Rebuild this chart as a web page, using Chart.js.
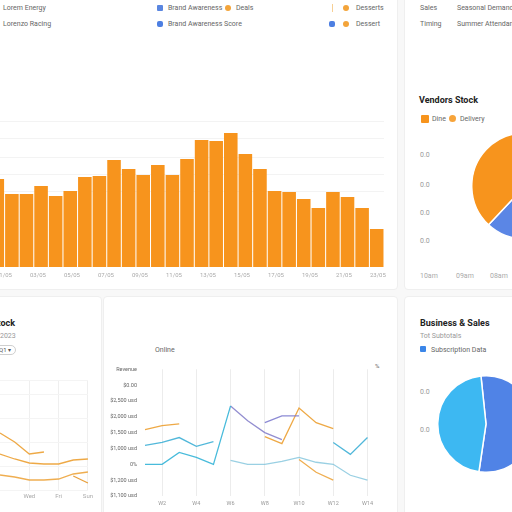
<!DOCTYPE html>
<html>
<head>
<meta charset="utf-8">
<script src="https://cdn.jsdelivr.net/npm/chart.js@4.4.1/dist/chart.umd.min.js"></script>
<style>
html, body { margin:0; padding:0; width:512px; height:512px; overflow:hidden; background:#f8f8f8; font-family:Roboto, "Liberation Sans", sans-serif; }
.card { position:absolute; background:#fff; border:1px solid #efefef; border-radius:4px; }
.t { position:absolute; font-size:7px; line-height:8px; color:#666; white-space:nowrap; }
.title { position:absolute; font-size:9px; line-height:10px; font-weight:bold; color:#222; white-space:nowrap; }
.sq { position:absolute; width:6px; height:6px; border-radius:1px; }
.dot { position:absolute; width:6px; height:6px; border-radius:50%; }
.pill { position:absolute; border:1px solid #cfcfcf; border-radius:5px; font-size:6px; line-height:8px; color:#555; padding:0 4px; }
canvas { position:absolute; }
</style>
</head>
<body>
<div class="card" style="left:-6px;top:-6px;width:402px;height:294px"></div>
<div class="card" style="left:404px;top:-6px;width:120px;height:294px"></div>
<div class="card" style="left:-6px;top:296px;width:106px;height:230px"></div>
<div class="card" style="left:103px;top:296px;width:293px;height:230px"></div>
<div class="card" style="left:404px;top:296px;width:120px;height:230px"></div>

<!-- top left header -->
<div class="t" style="left:3px;top:4px">Lorem Energy</div>
<div class="t" style="left:3px;top:20px">Lorenzo Racing</div>
<div class="sq" style="left:157px;top:5px;background:#5a86e0"></div>
<div class="t" style="left:168px;top:4px">Brand Awareness</div>
<div class="dot" style="left:225px;top:5px;background:#f3a43a"></div>
<div class="t" style="left:236px;top:4px">Deals</div>
<div style="position:absolute;left:332px;top:4px;width:1px;height:8px;background:#f7cf94"></div>
<div class="dot" style="left:343px;top:5px;background:#f3a43a"></div>
<div class="t" style="left:356px;top:4px">Desserts</div>
<div class="sq" style="left:157px;top:21px;background:#4d7fe2;border-radius:2px"></div>
<div class="t" style="left:168px;top:20px">Brand Awareness Score</div>
<div class="sq" style="left:329px;top:21px;background:#4d7fe2;border-radius:2px"></div>
<div class="dot" style="left:343px;top:21px;background:#f3a43a"></div>
<div class="t" style="left:356px;top:20px">Dessert</div>

<!-- top right -->
<div class="t" style="left:420px;top:4px">Sales</div>
<div class="t" style="left:457px;top:4px">Seasonal Demand Analysis</div>
<div class="t" style="left:420px;top:20px">Timing</div>
<div class="t" style="left:457px;top:20px">Summer Attendance</div>
<div class="title" style="left:419px;top:95px">Vendors Stock</div>
<div class="sq" style="left:421px;top:115px;width:8px;height:8px;background:#f7941d"></div>
<div class="t" style="left:432px;top:115px">Dine</div>
<div class="dot" style="left:449px;top:115px;width:7px;height:7px;background:#f7a43a"></div>
<div class="t" style="left:460px;top:115px">Delivery</div>
<div class="t" style="left:420px;top:151px;color:#999">0.0</div>
<div class="t" style="left:420px;top:181px;color:#999">0.0</div>
<div class="t" style="left:420px;top:209px;color:#999">0.0</div>
<div class="t" style="left:420px;top:237px;color:#999">0.0</div>
<div class="t" style="left:420px;top:272px;color:#aaa">10am</div>
<div class="t" style="left:456px;top:272px;color:#aaa">09am</div>
<div class="t" style="left:490px;top:272px;color:#aaa">08am</div>

<!-- bottom left -->
<div class="title" style="left:-8px;top:318px">Stock</div>
<div class="t" style="left:0px;top:332px;color:#999">2023</div>
<div class="pill" style="left:-6px;top:345px">Q1 &#9662;</div>

<!-- bottom middle -->
<div class="t" style="left:155px;top:346px">Online</div>
<div class="t" style="left:375px;top:362px;font-size:6px">%</div>

<!-- bottom right -->
<div class="title" style="left:420px;top:318px">Business &amp; Sales</div>
<div class="t" style="left:420px;top:332px;color:#999">Tot Subtotals</div>
<div class="sq" style="left:420px;top:346px;background:#3b86e8"></div>
<div class="t" style="left:431px;top:346px">Subscription Data</div>
<div class="t" style="left:420px;top:388px;color:#999">0.0</div>
<div class="t" style="left:420px;top:426px;color:#999">0.0</div>

<canvas id="bars" width="410" height="185" style="left:-10px;top:100px;width:410px;height:185px"></canvas>
<canvas id="pie1" width="108" height="108" style="left:471px;top:132px;width:108px;height:108px"></canvas>
<canvas id="stock" width="96" height="122" style="left:0px;top:380px;width:96px;height:122px"></canvas>
<canvas id="online" width="272" height="150" style="left:105px;top:358px;width:272px;height:150px"></canvas>
<canvas id="pie2" width="98" height="98" style="left:437px;top:375px;width:98px;height:98px"></canvas>

<script>
// daily bars (top left)
const barLabels = ['D1','D2','D3','D4','D5','D6','D7','D8','D9','D10','D11','D12','D13','D14',
  'D15','D16','D17','D18','D19','D20','D21','D22','D23','D24','D25','D26','D27'];
const barValues = [88,73,73,81,71,76,90,91,107,98,92,102,92,108,127,126,134,113,98,76,75,68,59,75,70,59,38];
const barGridTicks = [76,93,110,128,146];
const dateLabels = ['01/05','03/05','05/05','07/05','09/05','11/05','13/05','15/05','17/05','19/05','21/05','23/05'];

// vendors pie (top right)
const vendorLabels = ['Delivery','Dine'];
const vendorValues = [12,88];

// stock lines (bottom left)
const stockLabels = ['Mon','Tue','Wed','Thu','Fri','Sat','Sun'];
const stockA = [57,48,36,38,null,null,null];
const stockB = [36,31,27,26,26,30,31];
const stockC = [15,13,10,10,11,16,18];
const stockD = [null,null,null,null,null,14,7];

// online lines (bottom middle)
const onlineLabels = ['W1','W2','W3','W4','W5','W6','W7','W8','W9','W10','W11','W12','W13','W14'];
const onlineTicks = ['$1,100 usd','$1,200 usd','0%','$1,000 usd','$1,500 usd','$2,000 usd','$2,500 usd','$0.00','Revenue'];
const orangeA = [4.19,4.44,4.56,null,null,null,null,null,null,null,null,null,null,null];
const orangeB = [null,null,null,null,null,null,null,3.75,3.31,5.56,4.63,4.25,null,null];
const orangeC = [null,null,null,null,null,null,null,null,null,2.31,1.5,1.0,null,null];
const cyanA = [3.19,3.38,3.69,3.13,3.44,null,null,null,null,null,null,3.38,2.63,3.69];
const cyanB = [2.0,2.0,2.75,2.44,2.0,5.69,null,null,null,null,null,null,null,null];
const cyanC = [null,null,null,null,null,2.25,2.0,2.0,2.19,2.44,2.13,2.0,1.31,1.0];
const purpleA = [null,null,null,null,null,5.69,4.75,4.0,3.56,null,null,null,null,null];
const purpleB = [null,null,null,null,null,null,null,4.63,5.06,5.06,null,null,null,null];

// subscription pie (bottom right)
const subLabels = ['Subscription','Single'];
const subValues = [54,46];

Chart.defaults.font.family = 'Roboto, "Liberation Sans", sans-serif';
Chart.defaults.animation = false;
Chart.defaults.responsive = false;
Chart.defaults.plugins.legend.display = false;
Chart.defaults.plugins.tooltip.enabled = false;

new Chart(document.getElementById('bars'), {
  type: 'bar',
  data: {
    labels: barLabels,
    datasets: [{ data: barValues, backgroundColor: '#f7941d', borderWidth: 0,
      categoryPercentage: 1, barPercentage: 0.93 }]
  },
  options: {
    layout: { padding: { left: 0, right: 16, top: 0, bottom: 0 } },
    scales: {
      x: { display: false },
      x2: {
        type: 'linear', position: 'bottom', min: -0.41, max: 11.18, bounds: 'data', offset: false,
        grid: { display: false, drawTicks: false, offset: false }, border: { display: false },
        ticks: { padding: 5, color: '#aaa', font: { size: 6 },
          maxRotation: 0, autoSkip: false, callback: v => dateLabels[v] },
        afterBuildTicks: s => { s.ticks = dateLabels.map((_, i) => ({ value: i })); },
        afterFit: s => { s.height = 18; }
      },
      y: {
        min: 0, max: 167,
        border: { display: false },
        grid: { color: '#f3f3f3', drawTicks: false },
        ticks: { display: false },
        afterBuildTicks: s => { s.ticks = barGridTicks.map(v => ({ value: v })); },
        afterFit: s => { s.width = 0; }
      }
    }
  }
});

new Chart(document.getElementById('pie1'), {
  type: 'pie',
  data: {
    labels: vendorLabels,
    datasets: [{ data: vendorValues, backgroundColor: ['#5b86e5', '#f7941d'],
      borderColor: '#ffffff', borderWidth: 1.5 }]
  },
  options: { rotation: 180 }
});

function line(data, color) {
  return { data, borderColor: color, borderWidth: 1.3, pointRadius: 0, tension: 0, fill: false, spanGaps: false };
}

new Chart(document.getElementById('stock'), {
  type: 'line',
  data: {
    labels: stockLabels,
    datasets: [
      line(stockA, 'rgba(236,160,50,0.9)'),
      line(stockB, 'rgba(236,160,50,0.9)'),
      line(stockC, 'rgba(236,160,50,0.85)'),
      line(stockD, 'rgba(230,150,40,0.9)')
    ]
  },
  options: {
    layout: { padding: { left: 0, right: 6, top: 0, bottom: 0 } },
    scales: {
      x: {
        offset: false,
        border: { display: false },
        grid: { color: '#efefef', drawTicks: false },
        ticks: { color: '#aaa', font: { size: 6 }, padding: 3, maxRotation: 0, autoSkip: false,
          callback: (v, i) => (i % 2 === 0 && i > 0) ? stockLabels[i] : null },
        afterFit: s => { s.height = 12; }
      },
      y: {
        min: 0, max: 110,
        border: { display: false },
        grid: { color: '#f4f4f4', drawTicks: false },
        ticks: { display: false, stepSize: 24 },
        afterFit: s => { s.width = 0; }
      }
    }
  }
});

new Chart(document.getElementById('online'), {
  type: 'line',
  data: {
    labels: onlineLabels,
    datasets: [
      line(cyanC, 'rgba(120,192,218,0.75)'),
      line(cyanA, 'rgba(52,172,212,0.85)'),
      line(cyanB, 'rgba(52,180,215,0.9)'),
      line(purpleA, 'rgba(128,122,200,0.85)'),
      line(purpleB, 'rgba(120,118,205,0.85)'),
      line(orangeA, 'rgba(236,160,50,0.9)'),
      line(orangeB, 'rgba(236,160,50,0.9)'),
      line(orangeC, 'rgba(236,160,50,0.85)')
    ]
  },
  options: {
    layout: { padding: { left: 0, right: 8, top: 5, bottom: 0 } },
    scales: {
      x: {
        offset: false,
        border: { display: false },
        grid: { color: '#ececec', drawTicks: false },
        ticks: { color: '#999', font: { size: 5.5 }, padding: 4, maxRotation: 0, autoSkip: false,
          callback: (v, i) => (i % 2 === 1) ? onlineLabels[i] : null },
        afterFit: s => { s.height = 12; }
      },
      y: {
        min: 0, max: 8,
        border: { display: false },
        grid: { display: false, drawTicks: false },
        ticks: { stepSize: 1, color: '#666', font: { size: 5.5 }, padding: 8,
          callback: v => onlineTicks[v] },
        afterFit: s => { s.width = 40; }
      }
    }
  }
});

new Chart(document.getElementById('pie2'), {
  type: 'pie',
  data: {
    labels: subLabels,
    datasets: [{ data: subValues, backgroundColor: ['#5083e6', '#3db8f2'],
      borderColor: '#ffffff', borderWidth: 1.5 }]
  },
  options: { rotation: -6 }
});
</script>
</body>
</html>
